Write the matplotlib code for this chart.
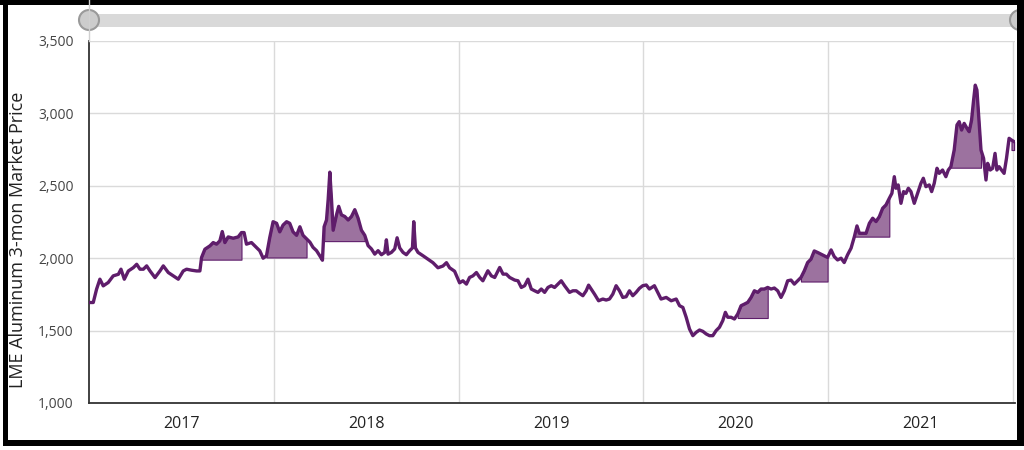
import numpy as np
import matplotlib
matplotlib.use("Agg")
import matplotlib.pyplot as plt
from matplotlib.patches import Rectangle, Circle

plt.rcParams['font.family'] = ['Open Sans', 'DejaVu Sans']

# LME aluminium 3-month price (year fraction, USD/t)
years = [
    2017.000, 2017.023, 2017.041, 2017.059, 2017.077, 2017.104, 2017.131, 2017.159, 2017.173, 2017.191,
    2017.213, 2017.240, 2017.258, 2017.276, 2017.294, 2017.312, 2017.330, 2017.357, 2017.384, 2017.402,
    2017.429, 2017.456, 2017.483, 2017.510, 2017.528, 2017.555, 2017.582, 2017.600, 2017.609, 2017.627,
    2017.654, 2017.672, 2017.690, 2017.708, 2017.721, 2017.735, 2017.753, 2017.780, 2017.807, 2017.825,
    2017.839, 2017.852, 2017.879, 2017.906, 2017.924, 2017.942, 2017.960, 2017.978, 2017.996, 2018.015,
    2018.032, 2018.050, 2018.069, 2018.086, 2018.104, 2018.123, 2018.141, 2018.158, 2018.177, 2018.195,
    2018.212, 2018.231, 2018.249, 2018.263, 2018.272, 2018.285, 2018.294, 2018.303, 2018.312, 2018.321,
    2018.339, 2018.351, 2018.366, 2018.384, 2018.402, 2018.420, 2018.438, 2018.456, 2018.474, 2018.492,
    2018.510, 2018.528, 2018.546, 2018.564, 2018.582, 2018.600, 2018.609, 2018.618, 2018.636, 2018.654,
    2018.667, 2018.681, 2018.699, 2018.717, 2018.735, 2018.750, 2018.757, 2018.766, 2018.780, 2018.807,
    2018.834, 2018.861, 2018.888, 2018.915, 2018.934, 2018.951, 2018.978, 2019.005, 2019.023, 2019.042,
    2019.059, 2019.077, 2019.096, 2019.114, 2019.131, 2019.158, 2019.177, 2019.195, 2019.222, 2019.240,
    2019.258, 2019.276, 2019.303, 2019.321, 2019.339, 2019.357, 2019.375, 2019.393, 2019.411, 2019.429,
    2019.447, 2019.465, 2019.483, 2019.501, 2019.519, 2019.537, 2019.555, 2019.573, 2019.600, 2019.618,
    2019.636, 2019.654, 2019.672, 2019.690, 2019.703, 2019.717, 2019.735, 2019.757, 2019.780, 2019.798,
    2019.816, 2019.834, 2019.852, 2019.870, 2019.888, 2019.906, 2019.924, 2019.942, 2019.960, 2019.978,
    2019.996, 2020.015, 2020.032, 2020.059, 2020.077, 2020.095, 2020.123, 2020.150, 2020.177, 2020.195,
    2020.213, 2020.231, 2020.249, 2020.267, 2020.285, 2020.303, 2020.321, 2020.339, 2020.357, 2020.375,
    2020.393, 2020.411, 2020.429, 2020.443, 2020.456, 2020.474, 2020.492, 2020.510, 2020.528, 2020.546,
    2020.564, 2020.582, 2020.600, 2020.618, 2020.636, 2020.654, 2020.672, 2020.690, 2020.708, 2020.726,
    2020.744, 2020.762, 2020.780, 2020.798, 2020.816, 2020.834, 2020.852, 2020.870, 2020.888, 2020.906,
    2020.924, 2020.943, 2020.960, 2020.978, 2020.996, 2021.015, 2021.032, 2021.050, 2021.069, 2021.086,
    2021.104, 2021.123, 2021.141, 2021.155, 2021.168, 2021.186, 2021.204, 2021.222, 2021.240, 2021.258,
    2021.276, 2021.294, 2021.312, 2021.330, 2021.344, 2021.357, 2021.366, 2021.378, 2021.393, 2021.407,
    2021.420, 2021.433, 2021.447, 2021.465, 2021.483, 2021.501, 2021.514, 2021.528, 2021.546, 2021.559,
    2021.573, 2021.588, 2021.600, 2021.618, 2021.636, 2021.649, 2021.663, 2021.681, 2021.696, 2021.708,
    2021.721, 2021.735, 2021.750, 2021.762, 2021.775, 2021.786, 2021.795, 2021.804, 2021.814, 2021.826,
    2021.840, 2021.853, 2021.862, 2021.876, 2021.889, 2021.902, 2021.912, 2021.924, 2021.937, 2021.951,
    2021.964, 2021.978, 2021.991, 2022.005,
]
prices = [
    1694, 1694, 1786, 1855, 1809, 1832, 1878, 1889, 1924, 1855,
    1912, 1935, 1958, 1924, 1924, 1947, 1912, 1866, 1912, 1947,
    1901, 1878, 1855, 1912, 1924, 1917, 1912, 1912, 2005, 2062,
    2085, 2108, 2097, 2120, 2184, 2108, 2147, 2138, 2147, 2177,
    2177, 2097, 2108, 2074, 2051, 2000, 2016, 2143, 2252, 2241,
    2182, 2229, 2252, 2241, 2182, 2158, 2217, 2158, 2134, 2111,
    2075, 2052, 2016, 1986, 2217, 2264, 2406, 2594, 2406, 2193,
    2299, 2358, 2299, 2288, 2264, 2288, 2335, 2276, 2193, 2158,
    2087, 2064, 2028, 2052, 2024, 2040, 2127, 2028, 2040, 2064,
    2141, 2071, 2040, 2024, 2052, 2071, 2252, 2071, 2040, 2017,
    1993, 1969, 1934, 1946, 1969, 1934, 1910, 1830, 1844, 1821,
    1867, 1878, 1901, 1867, 1844, 1913, 1878, 1867, 1936, 1890,
    1890, 1867, 1849, 1844, 1798, 1810, 1855, 1787, 1775, 1764,
    1787, 1764, 1798, 1810, 1798, 1821, 1844, 1810, 1764, 1775,
    1775, 1757, 1741, 1775, 1814, 1787, 1752, 1706, 1718, 1711,
    1718, 1752, 1810, 1775, 1729, 1734, 1775, 1741, 1764, 1792,
    1810, 1815, 1787, 1810, 1764, 1718, 1729, 1706, 1718, 1672,
    1660, 1592, 1511, 1465, 1488, 1504, 1495, 1477, 1465, 1465,
    1500, 1523, 1569, 1626, 1592, 1592, 1580, 1615, 1672, 1683,
    1695, 1729, 1775, 1764, 1787, 1787, 1798, 1787, 1794, 1775,
    1729, 1775, 1844, 1849, 1821, 1844, 1867, 1913, 1970, 1993,
    2050, 2039, 2028, 2016, 2005, 2057, 2011, 1988, 2000, 1970,
    2023, 2069, 2149, 2223, 2172, 2172, 2172, 2241, 2276, 2253,
    2287, 2345, 2368, 2414, 2448, 2563, 2483, 2506, 2379, 2460,
    2448, 2483, 2460, 2379, 2448, 2517, 2552, 2494, 2506, 2460,
    2517, 2621, 2586, 2609, 2563, 2609, 2632, 2747, 2920, 2943,
    2885, 2931, 2897, 2874, 2954, 3092, 3195, 3161, 2977, 2747,
    2690, 2540, 2655, 2609, 2621, 2724, 2609, 2632, 2609, 2586,
    2690, 2828, 2816, 2805,
]

# shaded stretches: start, end, base level
shade_start = [2017.609, 2017.955, 2018.272, 2020.505, 2020.849, 2021.137, 2021.659, 2021.988]
shade_end = [2017.830, 2018.180, 2018.495, 2020.672, 2021.000, 2021.335, 2021.834, 2022.010]
shade_base = [1990, 2005, 2118, 1587, 1839, 2149, 2625, 2747]

year_labels = ['2017', '2018', '2019', '2020', '2021']
yticks = [1000, 1500, 2000, 2500, 3000, 3500]

line_col = '#5f1d6b'
fill_col = '#9c729f'

x = np.array(years)
y = np.array(prices)

fig = plt.figure(figsize=(10.24, 4.5), dpi=100)
ax = fig.add_axes([89 / 1024, 1 - 403 / 450, 926 / 1024, 362 / 450])

for s, e, b in zip(shade_start, shade_end, shade_base):
    m = (x >= s) & (x <= e)
    ax.fill_between(x[m], y[m], b, facecolor=fill_col, edgecolor=line_col, linewidth=0.8, zorder=2)

ax.plot(x, y, color=line_col, linewidth=2.4, zorder=3)

ax.set_xlim(2017, 2022.01)
ax.set_ylim(1000, 3500)
ax.set_yticks(yticks)
ax.set_yticklabels([f'{v:,}' for v in yticks], fontsize=10, color='#444444')
ax.set_xticks([2018, 2019, 2020, 2021, 2022])
ax.set_xticklabels([])
ax.set_xticks([int(t) + 0.5 for t in year_labels], minor=True)
ax.set_xticklabels(year_labels, minor=True, fontsize=11.5, color='#222222')
ax.tick_params(axis='both', which='both', length=0)
ax.tick_params(axis='y', pad=11)
ax.tick_params(axis='x', which='minor', pad=9)
ax.grid(True, which='major', color='#dadada', linewidth=1)
for side in ['top', 'right']:
    ax.spines[side].set_visible(False)
for side in ['left', 'bottom']:
    ax.spines[side].set_color('#333333')
    ax.spines[side].set_linewidth(1.3)

fig.text(18 / 1024, 1 - 240 / 450, 'LME Aluminum 3-mon Market Price', rotation=90,
         ha='center', va='center', fontsize=13, color='#222222')

# overlay in pixel coords: slider bar and frame
ov = fig.add_axes([0, 0, 1, 1], zorder=5)
ov.set_xlim(0, 1024)
ov.set_ylim(450, 0)
ov.axis('off')
ov.plot([89, 89], [0, 41], color='#d0d0d0', linewidth=1)
ov.add_patch(Rectangle((89, 14), 930, 13, facecolor='#d9d9d9', edgecolor='none'))
for cx in [89, 1020]:
    ov.add_patch(Circle((cx, 20), 10, facecolor='#cccccc', edgecolor='#9a9a9a', linewidth=1.5))
ov.add_patch(Rectangle((3, 0), 5, 446, facecolor='black'))
ov.add_patch(Rectangle((0, 0), 1024, 5, facecolor='black'))
ov.add_patch(Rectangle((1017, 0), 7, 446, facecolor='black'))
ov.add_patch(Rectangle((3, 440), 1021, 6, facecolor='black'))

fig.savefig('out.png', dpi=100)
